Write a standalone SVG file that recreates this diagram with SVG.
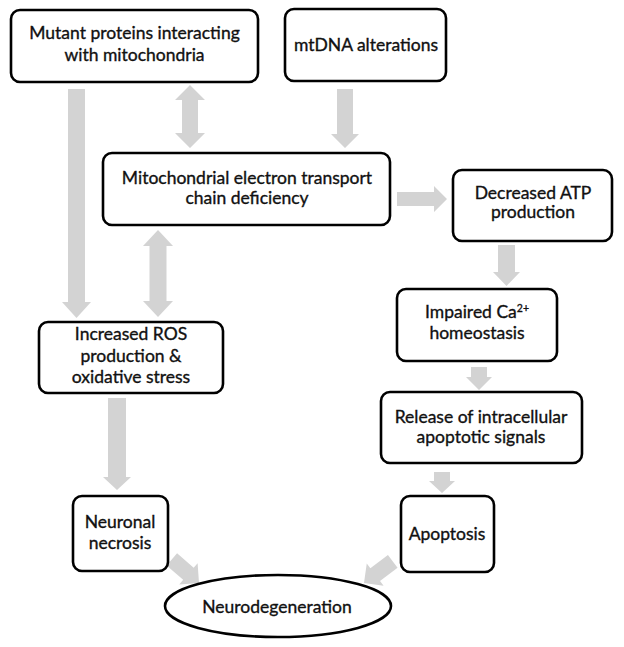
<svg xmlns="http://www.w3.org/2000/svg" width="624" height="647" viewBox="0 0 624 647">
<style>
.box{fill:#fff;stroke:#000;stroke-width:2.6}
.arr{fill:#d3d3d3}
.t{font-family:Lato,"Open Sans","Liberation Sans",sans-serif;font-size:17.5px;fill:#111;stroke:#111;stroke-width:0.35;text-anchor:middle}
</style>
<rect width="624" height="647" fill="#fff"/>
<defs>
<polygon id="diag" points="-36,-8 -14,-8 -14,-14 0,0 -14,14 -14,8 -36,8"/>
</defs>
<g id="connectors">
<polygon class="arr" points="68,89 85,89 85,302 91,302 76.5,318 62,302 68,302"/>
<polygon class="arr" points="190,85 205,100 198,100 198,133 205,133 190,148 175,133 182,133 182,100 175,100"/>
<polygon class="arr" points="337,89 353,89 353,134 359,134 345,148 331,134 337,134"/>
<polygon class="arr" points="158,230 173,246 166.5,246 166.5,301 173,301 158,317 143,301 149.5,301 149.5,246 143,246"/>
<polygon class="arr" points="397,192 434,192 434,186 447,199 434,212 434,206 397,206"/>
<polygon class="arr" points="498,245 515,245 515,272 520,272 506.5,286 493,272 498,272"/>
<polygon class="arr" points="471,367 487,367 487,377 492,377 479,390 466,377 471,377"/>
<polygon class="arr" points="434,472 450,472 450,481 455,481 442,493 429,481 434,481"/>
<polygon class="arr" points="108,398 126,398 126,477 131,477 117,490 103,477 108,477"/>
<use href="#diag" class="arr" transform="translate(199,583) rotate(41)"/>
<use href="#diag" class="arr" transform="translate(364,583) rotate(143)"/>
</g>
<g id="mutant">
<rect class="box" x="11" y="10" width="247" height="72" rx="9"/>
<text class="t" x="134.5" y="39">Mutant proteins interacting</text>
<text class="t" x="134.5" y="61">with mitochondria</text>
</g>
<g id="mtdna">
<rect class="box" x="285" y="9" width="161" height="72" rx="9"/>
<text class="t" x="366" y="51">mtDNA alterations</text>
</g>
<g id="etc">
<rect class="box" x="103" y="153" width="287" height="72" rx="9"/>
<text class="t" x="247" y="184">Mitochondrial electron transport</text>
<text class="t" x="247" y="204">chain deficiency</text>
</g>
<g id="atp">
<rect class="box" x="453" y="170" width="159" height="71" rx="9"/>
<text class="t" x="533" y="199">Decreased ATP</text>
<text class="t" x="533" y="218">production</text>
</g>
<g id="calcium">
<rect class="box" x="397" y="289" width="160" height="72" rx="9"/>
<text class="t" x="477" y="318">Impaired Ca<tspan font-size="10.5" dy="-6">2+</tspan></text>
<text class="t" x="477" y="339">homeostasis</text>
</g>
<g id="ros">
<rect class="box" x="39" y="322" width="184" height="71" rx="9"/>
<text class="t" x="131" y="340">Increased ROS</text>
<text class="t" x="131" y="362">production &amp;</text>
<text class="t" x="131" y="383">oxidative stress</text>
</g>
<g id="release">
<rect class="box" x="381" y="392" width="201" height="71" rx="9"/>
<text class="t" x="481" y="423">Release of intracellular</text>
<text class="t" x="481" y="443">apoptotic signals</text>
</g>
<g id="necrosis">
<rect class="box" x="73" y="496" width="95" height="75" rx="9"/>
<text class="t" x="120" y="528">Neuronal</text>
<text class="t" x="120" y="549">necrosis</text>
</g>
<g id="apoptosis">
<rect class="box" x="401" y="496" width="93" height="76" rx="9"/>
<text class="t" x="447" y="540">Apoptosis</text>
</g>
<g id="neurodegeneration">
<ellipse class="box" cx="278" cy="606" rx="113" ry="31"/>
<text class="t" x="277" y="613">Neurodegeneration</text>
</g>
</svg>
